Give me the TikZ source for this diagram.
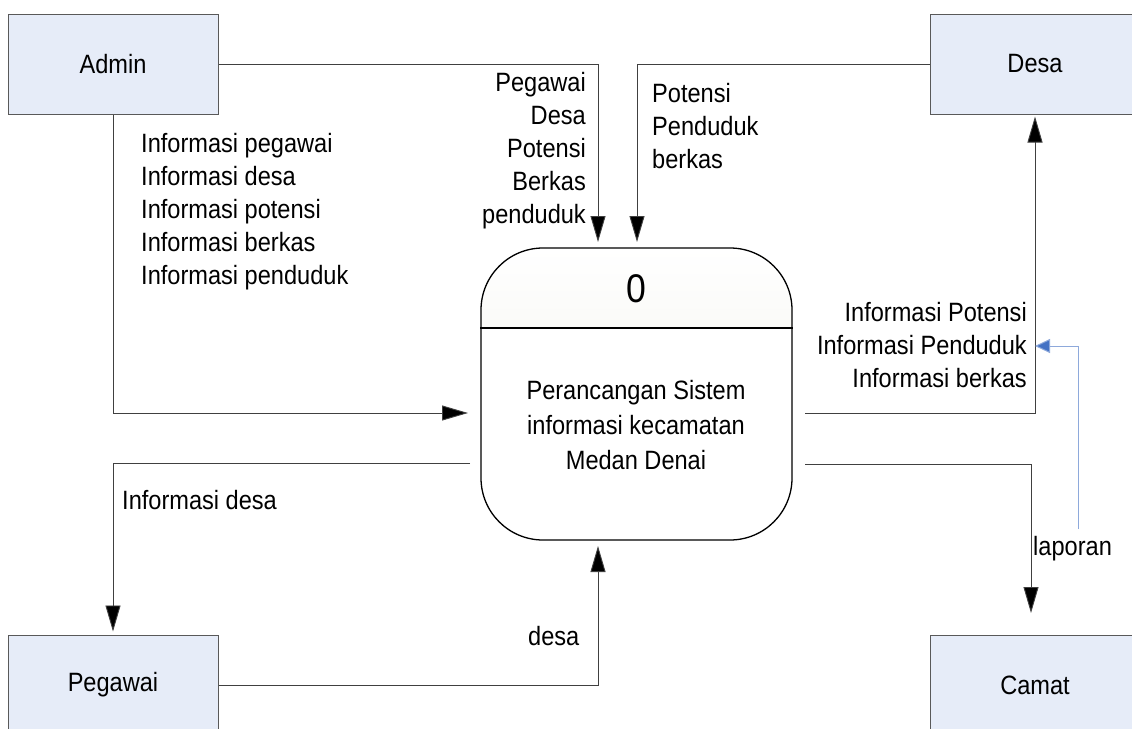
\documentclass[tikz,border=0pt]{standalone}
\usepackage{fontspec}
\setmainfont[FakeStretch=0.89]{Liberation Sans}
\usetikzlibrary{arrows.meta}
\definecolor{boxfill}{RGB}{230,236,248}
\definecolor{procfill}{RGB}{238,238,228}
\definecolor{blueline}{RGB}{142,169,219}
\definecolor{bluetip}{RGB}{68,114,196}
\begin{document}
\begin{tikzpicture}[x=1pt,y=-1pt,
 entity/.style={draw=black!65, fill=boxfill, line width=1pt, minimum width=210pt, minimum height=100pt, inner sep=0, font=\fontsize{26.5}{30}\selectfont},
 flow/.style={draw=black!75, line width=0.9pt, -{Triangle[length=26pt,width=15pt,fill=black]}},
 blueflow/.style={draw=blueline, line width=1pt, -{Triangle[length=15pt,width=14pt,fill=bluetip]}},
 lbl/.style={inner sep=0, font=\fontsize{26.5}{33}\selectfont},
]
\useasboundingbox (0,0) rectangle (1132,728);
\fill[white] (0,0) rectangle (1132,728);

% entities
\node[entity] (admin) at (113,64) {Admin};
\node[entity] (desa) at (1035,64) {Desa};
\node[entity] (pegawai) at (113,685) {Pegawai};
\node[entity] (camat) at (1035,685) {Camat};

% process
\begin{scope}
\clip (481,248) rectangle (792,328);
\shade[rounded corners=62pt, top color=white, bottom color=procfill] (481,248) rectangle (792,540);
\end{scope}
\node[draw=black, line width=1.3pt, rounded corners=62pt, minimum width=311pt, minimum height=292pt, inner sep=0] (proc) at (636.5,394) {};
\draw[line width=1.3pt] (proc.west |- 0,328) -- (proc.east |- 0,328);
\node[lbl, font=\fontsize{40}{44}\selectfont] (pnum) at (636,289) {0};
\node[lbl, align=center, font=\fontsize{26.5}{35}\selectfont] (ptext) at (636,425) {Perancangan Sistem\\informasi kecamatan\\Medan Denai};

% coordinates
\coordinate (inA) at (598,248);
\coordinate (inD) at (637,248);
\coordinate (inL) at (481,413);
\coordinate (outL) at (470,463);
\coordinate (inB) at (598,540);
\coordinate (outR1) at (805,413);
\coordinate (outR2) at (805,464);
\coordinate (inC) at (1031,635);
\coordinate (b1) at (1078,529);
\coordinate (b2) at (1035,346);

% flows
\draw[flow, shorten >=6pt] (admin.east) -| (inA);
\draw[flow, shorten >=6pt] (desa.west) -| (inD);
\draw[flow, shorten >=13pt] (admin.south) |- (inL);
\draw[flow, shorten >=3pt] (outL) -| (pegawai.north);
\draw[flow, shorten >=6pt] (pegawai.east) -| (inB);
\draw[flow, shorten >=2pt] (outR1) -| (desa.south);
\draw[flow, shorten >=22pt] (outR2) -| (inC);
\draw[blueflow] (b1) |- (b2);

% labels
\node[lbl, align=right, anchor=east] (l1) at (586,151) {Pegawai\\Desa\\Potensi\\Berkas\\penduduk};
\node[lbl, align=left, anchor=west] (l2) at (652,126) {Potensi\\Penduduk\\berkas};
\node[lbl, align=left, anchor=west] (l3) at (141,212) {Informasi pegawai\\Informasi desa\\Informasi potensi\\Informasi berkas\\Informasi penduduk};
\node[lbl, align=right, anchor=east] (l4) at (1027,345) {Informasi Potensi\\Informasi Penduduk\\Informasi berkas};
\node[lbl, anchor=west] (l5) at (122,500) {Informasi desa};
\node[lbl, anchor=west] (l6) at (528,636) {desa};
\node[lbl, anchor=west] (l7) at (1033,549) {laporan};
\end{tikzpicture}
\end{document}
